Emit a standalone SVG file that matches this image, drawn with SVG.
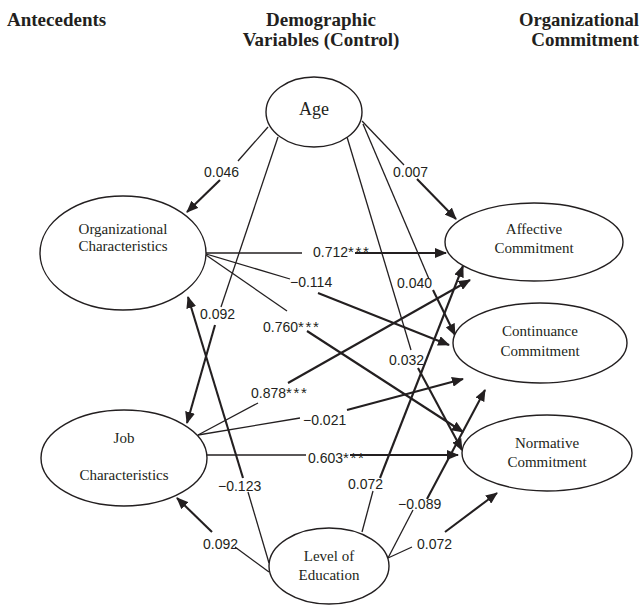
<svg xmlns="http://www.w3.org/2000/svg" width="643" height="605" viewBox="0 0 643 605">
<style>
.node ellipse{fill:#fff;stroke:#231f20;stroke-width:1.4}
.nt{font-family:"Liberation Serif","Times New Roman",serif;font-size:15px;fill:#231f20;text-anchor:middle}
.hd{font-family:"Liberation Serif","Times New Roman",serif;font-size:19px;font-weight:bold;fill:#231f20}
.thin{stroke:#231f20;stroke-width:1.3;fill:none}
.arr{stroke:#231f20;stroke-width:2.1;fill:none;marker-end:url(#ah)}
.el{font-family:"Liberation Sans",Arial,sans-serif;font-size:14px;fill:#231f20}
.st{font-size:15px;letter-spacing:1.6px}
</style>
<defs>
<marker id="ah" viewBox="0 0 12 10" refX="11" refY="5" markerWidth="12" markerHeight="10" markerUnits="userSpaceOnUse" orient="auto">
<path d="M0,0 L12,5 L0,10 z" fill="#231f20"/>
</marker>
</defs>
<rect width="643" height="605" fill="#fff"/>
<g id="headers">
<text class="hd" x="7" y="26">Antecedents</text>
<text class="hd" x="321" y="26" text-anchor="middle">Demographic</text>
<text class="hd" x="321" y="46" text-anchor="middle">Variables (Control)</text>
<text class="hd" x="579" y="26" text-anchor="middle" textLength="120" lengthAdjust="spacingAndGlyphs">Organizational</text>
<text class="hd" x="585" y="46" text-anchor="middle">Commitment</text>
</g>
<g id="connectors">
<!-- Age -> Org Char -->
<line class="thin" x1="268" y1="127" x2="238" y2="161"/>
<line class="arr" x1="220" y1="180" x2="187" y2="212"/>
<text class="el" x="204" y="177">0.046</text>
<!-- Age -> Job -->
<line class="thin" x1="278" y1="137" x2="221" y2="307"/>
<line class="arr" x1="215" y1="325" x2="187" y2="423"/>
<text class="el" x="200" y="319">0.092</text>
<!-- Age -> Affective -->
<line class="thin" x1="362" y1="121" x2="404" y2="165"/>
<line class="arr" x1="417" y1="179" x2="456" y2="219"/>
<text class="el" x="393" y="177">0.007</text>
<!-- Age -> Continuance -->
<line class="thin" x1="363" y1="124" x2="429" y2="279"/>
<line class="arr" x1="433" y1="290" x2="455" y2="335"/>
<text class="el" x="397" y="288">0.040</text>
<!-- Age -> Normative -->
<line class="thin" x1="347" y1="137" x2="411" y2="350"/>
<line class="arr" x1="418" y1="368" x2="462" y2="450"/>
<text class="el" x="389" y="365">0.032</text>
<!-- Org -> Affective -->
<line class="thin" x1="206" y1="253" x2="302" y2="253"/>
<text class="el" x="313" y="257">0.712<tspan class="st">***</tspan></text>
<line class="arr" x1="355" y1="253" x2="446" y2="253"/>
<!-- Org -> Continuance -->
<line class="thin" x1="206" y1="254" x2="290" y2="279"/>
<line class="arr" x1="318" y1="293" x2="449" y2="345"/>
<text class="el" x="290" y="287">−0.114</text>
<!-- Org -> Normative -->
<line class="thin" x1="206" y1="255" x2="287" y2="311"/>
<line class="arr" x1="307" y1="331" x2="463" y2="432"/>
<text class="el" x="263" y="332">0.760<tspan class="st">***</tspan></text>
<!-- Job -> Affective -->
<line class="thin" x1="198" y1="435" x2="258" y2="403"/>
<line class="arr" x1="288" y1="383" x2="470" y2="280"/>
<text class="el" x="251" y="398">0.878<tspan class="st">***</tspan></text>
<!-- Job -> Continuance -->
<line class="thin" x1="198" y1="435" x2="300" y2="418"/>
<line class="arr" x1="347" y1="410" x2="463" y2="379"/>
<text class="el" x="303" y="425">−0.021</text>
<!-- Job -> Normative -->
<line class="thin" x1="207" y1="455" x2="306" y2="455"/>
<text class="el" x="308" y="463">0.603<tspan class="st">***</tspan></text>
<line class="arr" x1="350" y1="455" x2="458" y2="455"/>
<!-- LoE -> Org -->
<line class="thin" x1="269" y1="563" x2="248" y2="492"/>
<line class="arr" x1="243" y1="478" x2="188" y2="297"/>
<text class="el" x="218" y="491">−0.123</text>
<!-- LoE -> Job -->
<line class="thin" x1="269" y1="572" x2="235" y2="547"/>
<line class="arr" x1="212" y1="532" x2="177" y2="498"/>
<text class="el" x="203" y="549">0.092</text>
<!-- LoE -> Affective -->
<line class="thin" x1="362" y1="532" x2="373" y2="491"/>
<line class="arr" x1="380" y1="478" x2="463" y2="266"/>
<text class="el" x="348" y="489">0.072</text>
<!-- LoE -> Continuance -->
<line class="thin" x1="388" y1="558" x2="413" y2="510"/>
<line class="arr" x1="427" y1="499" x2="485" y2="390"/>
<text class="el" x="398" y="509">−0.089</text>
<!-- LoE -> Normative -->
<line class="thin" x1="388" y1="558" x2="412" y2="547"/>
<line class="arr" x1="445" y1="532" x2="497" y2="493"/>
<text class="el" x="417" y="549">0.072</text>
</g>
<g id="age" class="node">
<ellipse cx="314" cy="112" rx="48" ry="35"/>
<text class="nt" x="314" y="115" style="font-size:18px">Age</text>
</g>
<g id="org-char" class="node">
<ellipse cx="123" cy="253" rx="83" ry="57"/>
<text class="nt" x="123" y="234">Organizational</text>
<text class="nt" x="123" y="251">Characteristics</text>
</g>
<g id="job-char" class="node">
<ellipse cx="124" cy="458" rx="83" ry="48"/>
<text class="nt" x="124" y="443">Job</text>
<text class="nt" x="124" y="480">Characteristics</text>
</g>
<g id="education" class="node">
<ellipse cx="329" cy="566" rx="60" ry="38"/>
<text class="nt" x="329" y="561">Level of</text>
<text class="nt" x="329" y="580">Education</text>
</g>
<g id="affective" class="node">
<ellipse cx="534" cy="242" rx="89" ry="39"/>
<text class="nt" x="534" y="234">Affective</text>
<text class="nt" x="534" y="253">Commitment</text>
</g>
<g id="continuance" class="node">
<ellipse cx="540" cy="343" rx="87" ry="40"/>
<text class="nt" x="540" y="336">Continuance</text>
<text class="nt" x="540" y="356">Commitment</text>
</g>
<g id="normative" class="node">
<ellipse cx="547" cy="453" rx="85" ry="38"/>
<text class="nt" x="547" y="448">Normative</text>
<text class="nt" x="547" y="467">Commitment</text>
</g>
</svg>
